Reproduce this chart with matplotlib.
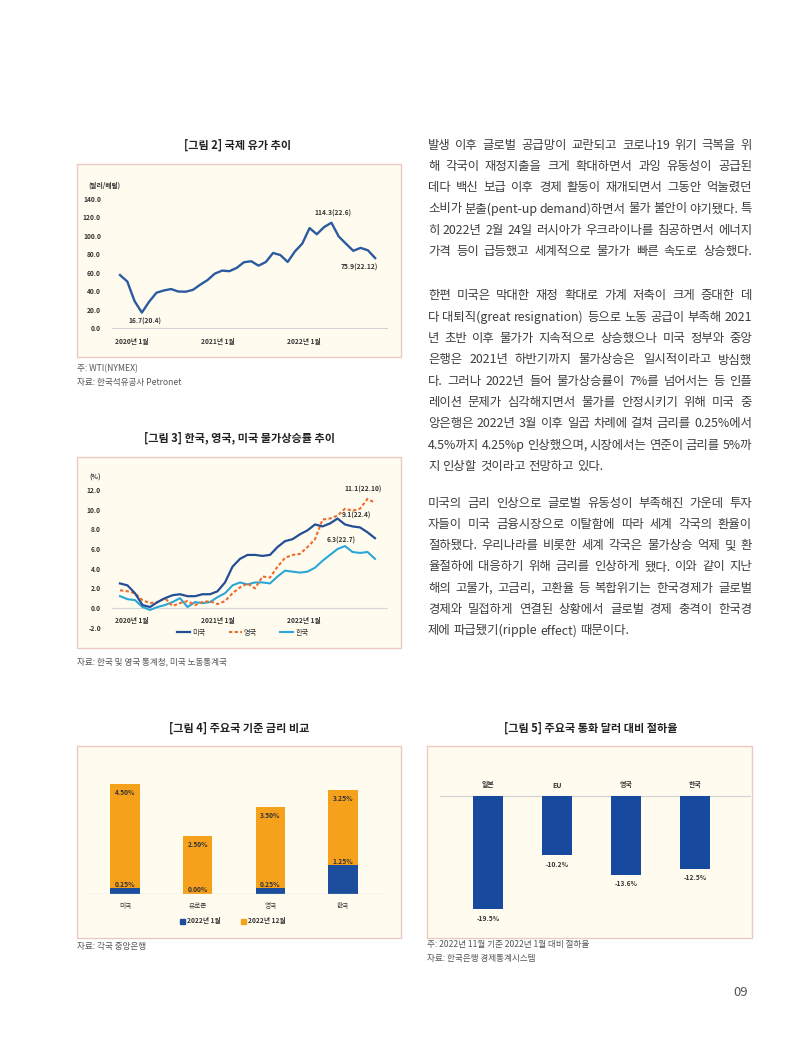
import matplotlib
matplotlib.use('Agg')
import matplotlib.pyplot as plt
from matplotlib.patches import Rectangle, Patch
from matplotlib.lines import Line2D

plt.rcParams['font.family'] = ['Noto Sans CJK KR', 'DejaVu Sans']

# ---------------- data ----------------
oil_price = [57.5, 50.5, 29.2, 16.7, 28.6, 38.3, 40.7, 42.3, 39.6, 39.4, 41.4, 47.0,
             52.0, 59.0, 62.3, 61.7, 65.2, 71.4, 72.5, 67.7, 71.6, 81.5, 79.2, 71.7,
             83.2, 91.6, 108.5, 101.8, 109.6, 114.3, 99.4, 91.5, 83.8, 87.0, 84.4, 75.9]
oil_yticks = [0, 20, 40, 60, 80, 100, 120, 140]
year_labels = ['2020년 1월', '2021년 1월', '2022년 1월']

infl_us = [2.5, 2.3, 1.5, 0.3, 0.1, 0.6, 1.0, 1.3, 1.4, 1.2, 1.2, 1.4,
           1.4, 1.7, 2.6, 4.2, 5.0, 5.4, 5.4, 5.3, 5.4, 6.2, 6.8, 7.0,
           7.5, 7.9, 8.5, 8.3, 8.6, 9.1, 8.5, 8.3, 8.2, 7.7, 7.1]
infl_uk = [1.8, 1.7, 1.5, 0.8, 0.5, 0.6, 1.0, 0.2, 0.5, 0.7, 0.3, 0.6,
           0.7, 0.4, 0.7, 1.5, 2.1, 2.5, 2.0, 3.2, 3.1, 4.2, 5.1, 5.4,
           5.5, 6.2, 7.0, 9.0, 9.1, 9.4, 10.1, 9.9, 10.1, 11.1, 10.7]
infl_kr = [1.2, 0.9, 0.8, 0.1, -0.2, 0.1, 0.3, 0.6, 1.0, 0.1, 0.6, 0.5,
           0.6, 1.1, 1.5, 2.3, 2.6, 2.4, 2.6, 2.6, 2.5, 3.2, 3.8, 3.7,
           3.6, 3.7, 4.1, 4.8, 5.4, 6.0, 6.3, 5.7, 5.6, 5.7, 5.0]
infl_yticks = [-2, 0, 2, 4, 6, 8, 10, 12]
infl_names = ['미국', '영국', '한국']

rate_countries = ['미국', '유로존', '영국', '한국']
rate_jan = [0.25, 0.00, 0.25, 1.25]
rate_dec = [4.50, 2.50, 3.50, 3.25]
rate_legend = ['2022년 1월', '2022년 12월']

fx_countries = ['일본', 'EU', '영국', '한국']
fx_dep = [-19.5, -10.2, -13.6, -12.5]

para1 = ["발생 이후 글로벌 공급망이 교란되고 코로나19 위기 극복을 위",
         "해 각국이 재정지출을 크게 확대하면서 과잉 유동성이 공급된",
         "데다 백신 보급 이후 경제 활동이 재개되면서 그동안 억눌렸던",
         "소비가 분출(pent-up demand)하면서 물가 불안이 야기됐다. 특",
         "히 2022년 2월 24일 러시아가 우크라이나를 침공하면서 에너지",
         "가격 등이 급등했고 세계적으로 물가가 빠른 속도로 상승했다."]
para2 = ["한편 미국은 막대한 재정 확대로 가계 저축이 크게 증대한 데",
         "다 대퇴직(great resignation) 등으로 노동 공급이 부족해 2021",
         "년 초반 이후 물가가 지속적으로 상승했으나 미국 정부와 중앙",
         "은행은 2021년 하반기까지 물가상승은 일시적이라고 방심했",
         "다. 그러나 2022년 들어 물가상승률이 7%를 넘어서는 등 인플",
         "레이션 문제가 심각해지면서 물가를 안정시키기 위해 미국 중",
         "앙은행은 2022년 3월 이후 일곱 차례에 걸쳐 금리를 0.25%에서",
         "4.5%까지 4.25%p 인상했으며, 시장에서는 연준이 금리를 5%까",
         "지 인상할 것이라고 전망하고 있다."]
para3 = ["미국의 금리 인상으로 글로벌 유동성이 부족해진 가운데 투자",
         "자들이 미국 금융시장으로 이탈함에 따라 세계 각국의 환율이",
         "절하됐다. 우리나라를 비롯한 세계 각국은 물가상승 억제 및 환",
         "율절하에 대응하기 위해 금리를 인상하게 됐다. 이와 같이 지난",
         "해의 고물가, 고금리, 고환율 등 복합위기는 한국경제가 글로벌",
         "경제와 밀접하게 연결된 상황에서 글로벌 경제 충격이 한국경",
         "제에 파급됐기(ripple effect) 때문이다."]

# ---------------- layout helpers ----------------
W, H = 800, 1040
fig = plt.figure(figsize=(W / 100, H / 100), dpi=100)
fig.patch.set_facecolor('white')
renderer = fig.canvas.get_renderer()

TXT = '#333333'
GRAY = '#555555'
BOX_FC = '#FFFCEF'
BOX_EC = '#EBC9C5'


def fy(y):
    return 1 - y / H


def add_ax(x0, y0, x1, y1):
    ax = fig.add_axes([x0 / W, 1 - y1 / H, (x1 - x0) / W, (y1 - y0) / H])
    ax.set_facecolor('none')
    ax.set_zorder(2)
    for s in ax.spines.values():
        s.set_visible(False)
    return ax


def box(x0, y0, x1, y1):
    fig.patches.append(Rectangle((x0 / W, 1 - y1 / H), (x1 - x0) / W, (y1 - y0) / H,
                                 transform=fig.transFigure, facecolor=BOX_FC,
                                 edgecolor=BOX_EC, lw=1.0, zorder=-5))


def title(xc, y, s):
    fig.text(xc / W, fy(y), s, ha='center', va='center', fontsize=8,
             fontweight='bold', color='#222222')


def note(x, y, s):
    fig.text(x / W, fy(y), s, ha='left', va='center', fontsize=6.2, color=GRAY)


def bold_labels(labels):
    for lab in labels:
        lab.set_fontweight('bold')


# ---------------- Figure 2 : oil ----------------
title(238, 145, '[그림 2] 국제 유가 추이')
box(77, 164, 401, 357)
ppm = 7.29          # px per month
ppu = 0.921         # px per dollar
x0px, x1px = 112, 388
ax = add_ax(x0px, 190, x1px, 332)
ax.set_xlim(-(120 - x0px) / ppm, (x1px - 120) / ppm)
ax.set_ylim(-(332 - 328) / ppu, (328 - 190) / ppu)
months = list(range(len(oil_price)))
ax.plot(months, oil_price, color='#2C5AA0', lw=1.7, solid_joinstyle='round', zorder=3)
ax.axhline(0, color='#D3D3D3', lw=0.8, zorder=1)
ax.set_yticks(oil_yticks)
ax.set_yticklabels([f'{v:.1f}' for v in oil_yticks])
ax.tick_params(axis='y', length=0, pad=8, labelsize=4.8, labelcolor=TXT)
bold_labels(ax.get_yticklabels())
ax.set_xticks([])
for i, lab in enumerate(year_labels):
    ax.text(1.6 + 11.8 * i, -15.2, lab, ha='center', va='center', fontsize=4.8,
            fontweight='bold', color=TXT, clip_on=False)
fig.text(88 / W, fy(185), '(달러/배럴)', fontsize=4.8, fontweight='bold', color=TXT,
         ha='left', va='center')
imin = oil_price.index(min(oil_price))
imax = oil_price.index(max(oil_price))
ax.annotate('16.7(20.4)', (imin, oil_price[imin]), xytext=(3, -9), textcoords='offset pixels',
            ha='center', va='center', fontsize=4.8, fontweight='bold', color=TXT)
ax.annotate('114.3(22.6)', (imax, oil_price[imax]), xytext=(2, 9), textcoords='offset pixels',
            ha='center', va='center', fontsize=4.8, fontweight='bold', color=TXT)
ax.annotate('75.9(22.12)', (len(oil_price) - 1, oil_price[-1]), xytext=(-16, -9),
            textcoords='offset pixels', ha='center', va='center', fontsize=4.8,
            fontweight='bold', color=TXT)
note(77, 369, '주: WTI(NYMEX)')
note(77, 382, '자료: 한국석유공사 Petronet')

# ---------------- Figure 3 : inflation ----------------
title(240, 438, '[그림 3] 한국, 영국, 미국 물가상승률 추이')
box(77, 457, 401, 648)
ppm3 = 7.5
ppu3 = 9.83
ax = add_ax(112, 470, 388, 632)
ax.set_xlim(-(120 - 112) / ppm3, (388 - 120) / ppm3)
ax.set_ylim(-(632 - 608) / ppu3, (608 - 470) / ppu3)
m3 = list(range(len(infl_us)))
c_us, c_uk, c_kr = '#234E96', '#EC6B2D', '#2BA6D6'
ax.axhline(0, color='#D8D8D8', lw=0.9, zorder=1)
ax.plot(m3, infl_kr, color=c_kr, lw=1.5, zorder=3)
ax.plot(m3, infl_uk, color=c_uk, lw=1.5, ls=(0, (1.6, 1.1)), zorder=4)
ax.plot(m3, infl_us, color=c_us, lw=1.6, zorder=5)
ax.set_yticks(infl_yticks)
ax.set_yticklabels([f'{v:.1f}' for v in infl_yticks])
ax.tick_params(axis='y', length=0, pad=8, labelsize=4.8, labelcolor=TXT)
bold_labels(ax.get_yticklabels())
ax.set_xticks([])
for i, lab in enumerate(year_labels):
    ax.text(1.6 + 11.45 * i, -(620 - 608) / ppu3, lab, ha='center', va='center',
            fontsize=4.8, fontweight='bold', color=TXT)
fig.text(95 / W, fy(477), '(%)', fontsize=4.8, fontweight='bold', color=TXT,
         ha='center', va='center')
iuk = infl_uk.index(max(infl_uk))
ius = infl_us.index(max(infl_us))
ikr = infl_kr.index(max(infl_kr))
ax.annotate('11.1(22.10)', (iuk, infl_uk[iuk]), xytext=(-4, 9), textcoords='offset pixels',
            ha='center', va='center', fontsize=4.8, fontweight='bold', color=TXT)
ax.annotate('9.1(22.4)', (ius, infl_us[ius]), xytext=(19, 3), textcoords='offset pixels',
            ha='center', va='center', fontsize=4.8, fontweight='bold', color=TXT)
ax.annotate('6.3(22.7)', (ikr, infl_kr[ikr]), xytext=(-4, 6), textcoords='offset pixels',
            ha='center', va='center', fontsize=4.8, fontweight='bold', color=TXT)
handles = [Line2D([], [], color=c_us, lw=1.6),
           Line2D([], [], color=c_uk, lw=1.5, ls=(0, (1.6, 1.1))),
           Line2D([], [], color=c_kr, lw=1.5)]
leg = fig.legend(handles, infl_names, loc='center', bbox_to_anchor=(243 / W, fy(633)),
                 ncol=3, frameon=False, fontsize=5.2, handlelength=1.8,
                 handletextpad=0.3, columnspacing=3.2)
for t in leg.get_texts():
    t.set_color(TXT)
note(77, 662, '자료: 한국 및 영국 통계청, 미국 노동통계국')

# ---------------- Figure 4 : policy rates ----------------
title(239, 728, '[그림 4] 주요국 기준 금리 비교')
box(77, 746, 401, 938)
spc = 72.7
ppu4 = 23.1
ax = add_ax(88, 760, 388, 894)
ax.set_xlim(-(125 - 88) / spc, 3 + (388 - 343) / spc)
ax.set_ylim(0, (894 - 760) / ppu4)
xs = list(range(len(rate_countries)))
c_jan, c_dec = '#1C4E9D', '#F6A11C'
ax.bar(xs, rate_jan, width=0.4, color=c_jan, zorder=2)
ax.bar(xs, rate_dec, width=0.4, bottom=rate_jan, color=c_dec, zorder=2)
ax.axhline(0, color='#CFCFCF', lw=0.9, zorder=3)
for i in xs:
    top = rate_jan[i] + rate_dec[i]
    ax.annotate(f'{rate_dec[i]:.2f}%', (i, top), xytext=(0, -8), textcoords='offset pixels',
                ha='center', va='center', fontsize=4.8, fontweight='bold', color=TXT)
    ax.annotate(f'{rate_jan[i]:.2f}%', (i, rate_jan[i]), xytext=(0, 4), textcoords='offset pixels',
                ha='center', va='center', fontsize=4.8, fontweight='bold', color=TXT, zorder=4)
ax.set_xticks(xs)
ax.set_xticklabels(rate_countries)
ax.tick_params(axis='x', length=0, pad=6, labelsize=4.8, labelcolor=TXT)
ax.set_yticks([])
leg = fig.legend([Patch(color=c_jan), Patch(color=c_dec)], rate_legend, loc='center',
                 bbox_to_anchor=(233 / W, fy(921)), ncol=2, frameon=False, fontsize=4.8,
                 handlelength=0.7, handleheight=0.7, handletextpad=0.4, columnspacing=3.0)
for t in leg.get_texts():
    t.set_color(TXT)
    t.set_fontweight('bold')
note(77, 947, '자료: 각국 중앙은행')

# ---------------- Figure 5 : currency depreciation ----------------
title(591, 728, '[그림 5] 주요국 통화 달러 대비 절하율')
box(427, 746, 752, 938)
spc5 = 69
ppu5 = 5.8
ax = add_ax(440, 770, 751, 930)
ax.set_xlim(-(488 - 440) / spc5, 3 + (751 - 695) / spc5)
ax.set_ylim(-(930 - 796) / ppu5, (796 - 770) / ppu5)
xs5 = list(range(len(fx_countries)))
ax.bar(xs5, fx_dep, width=0.43, color='#174A9F', zorder=2)
ax.axhline(0, color='#D3D3D3', lw=0.9, zorder=1)
for i in xs5:
    ax.annotate(fx_countries[i], (i, 0), xytext=(0, 11), textcoords='offset pixels',
                ha='center', va='center', fontsize=5, fontweight='bold', color=TXT)
    ax.annotate(f'{fx_dep[i]:.1f}%', (i, fx_dep[i]), xytext=(0, -9), textcoords='offset pixels',
                ha='center', va='center', fontsize=4.8, fontweight='bold', color=TXT)
ax.set_xticks([])
ax.set_yticks([])
note(427, 945, '주: 2022년 11월 기준 2022년 1월 대비 절하율')
note(427, 958, '자료: 한국은행 경제통계시스템')

# ---------------- body text (justified) ----------------
BODY_FS = 8.9
BODY_C = '#3C3C3C'
TX0, TX1 = 428, 752
LS = 21.3


def place_words(line, y, fs, justify_it):
    words = line.split(' ')
    texts, widths = [], []
    for w in words:
        t = fig.text(0, fy(y), w, ha='left', va='center', fontsize=fs, color=BODY_C)
        texts.append(t)
        widths.append(t.get_window_extent(renderer).width)
    space = fs * 0.25 * 100 / 72
    if justify_it and len(words) > 1:
        gap = (TX1 - TX0 - sum(widths)) / (len(words) - 1)
    else:
        gap = space
    return texts, widths, gap


def draw_line(line, y, last):
    fs = BODY_FS
    while True:
        texts, widths, gap = place_words(line, y, fs, True)
        natural = sum(widths) + (len(widths) - 1) * fs * 0.25 * 100 / 72
        if gap >= 1.5 or fs < 7:
            break
        for t in texts:
            t.remove()
        fs -= 0.1
    if last and natural < 0.93 * (TX1 - TX0):
        for t in texts:
            t.remove()
        texts, widths, gap = place_words(line, y, fs, False)
    x = TX0
    for t, wd in zip(texts, widths):
        t.set_position((x / W, fy(y)))
        x += wd + gap


for para, y0 in ((para1, 145), (para2, 296), (para3, 503)):
    for k, line in enumerate(para):
        draw_line(line, y0 + k * LS, k == len(para) - 1)

fig.text(741 / W, fy(992), '09', ha='center', va='center', fontsize=9.5, color='#555555')

fig.savefig('out.png', dpi=100, facecolor='white')
